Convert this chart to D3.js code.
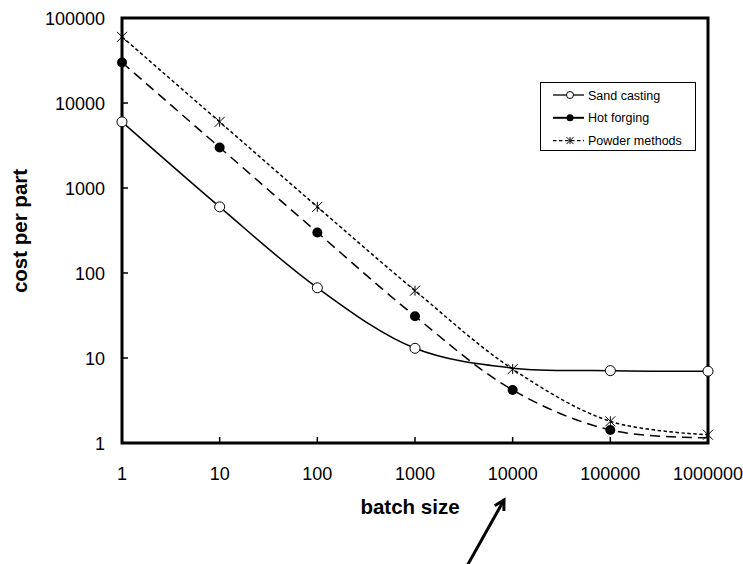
<!DOCTYPE html>
<html><head><meta charset="utf-8">
<script src="https://cdn.jsdelivr.net/npm/d3@7"></script>
<style>body{margin:0;background:#fff}svg{display:block}text{font-family:Arial,"Liberation Sans",sans-serif}</style>
</head><body>
<svg id="c" width="743" height="564"></svg>
<script>
const batchSizes = [1, 10, 100, 1000, 10000, 100000, 1000000];
const sandCasting = [6000, 600, 67, 13, 7.6, 7.1, 7.0];
const hotForging = [30000, 3000, 300, 31, 4.2, 1.42, 1.15];
const powderMethods = [60000, 6000, 600, 62, 7.4, 1.8, 1.25];
const xTickLabels = ["1","10","100","1000","10000","100000","1000000"];
const yTickLabels = ["1","10","100","1000","10000","100000"];
const seriesNames = ["Sand casting","Hot forging","Powder methods"];
// points whose marker is not shown in the picture
const hiddenMarkers = {"Sand casting":[10000], "Hot forging":[1000000]};

const svg = d3.select("#c");
const L=122, R=708, T=18, B=443;
const x = d3.scaleLog().domain([1,1e6]).range([L,R]);
const y = d3.scaleLog().domain([1,1e5]).range([B,T]);

const yTicks = yTickLabels.map(Number), xTicks = xTickLabels.map(Number);
svg.append("g").selectAll("line").data(yTicks).join("line")
  .attr("x1",L).attr("x2",L+6).attr("y1",d=>y(d)).attr("y2",d=>y(d)).attr("stroke","#000").attr("stroke-width",1.5);
svg.append("g").selectAll("line").data(xTicks).join("line")
  .attr("x1",d=>x(d)).attr("x2",d=>x(d)).attr("y1",B).attr("y2",B-6).attr("stroke","#000").attr("stroke-width",1.5);
svg.append("g").selectAll("text").data(yTickLabels).join("text")
  .attr("x",L-17).attr("y",d=>y(+d)+7).attr("text-anchor","end").attr("font-size",18).text(d=>d);
svg.append("g").selectAll("text").data(xTickLabels).join("text")
  .attr("x",d=>x(+d)).attr("y",B+37).attr("text-anchor","middle").attr("font-size",18).text(d=>d);

svg.append("text").attr("x",410).attr("y",514).attr("text-anchor","middle").attr("font-size",20.5).attr("font-weight","bold").text("batch size");
svg.append("text").attr("transform","translate(27,231) rotate(-90)").attr("text-anchor","middle").attr("font-size",20.5).attr("font-weight","bold").text("cost per part");

const line = d3.line().x(d=>x(d[0])).y(d=>y(d[1])).curve(d3.curveCatmullRom.alpha(0.5));
const series = [
  {name:seriesNames[0], vals:sandCasting, dash:null, marker:"open"},
  {name:seriesNames[1], vals:hotForging, dash:"10,6", marker:"fill"},
  {name:seriesNames[2], vals:powderMethods, dash:"3.5,2.5", marker:"star"}
];
function drawMarker(g, type, cx, cy, s){
  s = s||5;
  if(type==="open") g.append("circle").attr("cx",cx).attr("cy",cy).attr("r",s).attr("fill","#fff").attr("stroke","#000").attr("stroke-width",1);
  else if(type==="fill") g.append("circle").attr("cx",cx).attr("cy",cy).attr("r",s).attr("fill","#000");
  else {
    g.append("path").attr("d",`M${cx-s},${cy-s}L${cx+s},${cy+s}M${cx-s},${cy+s}L${cx+s},${cy-s}M${cx},${cy-s}L${cx},${cy+s}`)
      .attr("stroke","#000").attr("stroke-width",1).attr("fill","none");
  }
}
series.forEach(s=>{
  const pts = batchSizes.map((b,i)=>[b,s.vals[i]]);
  svg.append("path").attr("d",line(pts)).attr("fill","none").attr("stroke","#000").attr("stroke-width",1.5)
    .attr("stroke-dasharray",s.dash);
});
svg.append("rect").attr("x",L).attr("y",T).attr("width",R-L).attr("height",B-T).attr("fill","none").attr("stroke","#000").attr("stroke-width",3);
series.forEach(s=>{
  const g=svg.append("g");
  const hid = hiddenMarkers[s.name]||[];
  batchSizes.forEach((b,i)=>{ if(!hid.includes(b)) drawMarker(g,s.marker,x(b),y(s.vals[i])); });
});

// legend
const lg = svg.append("g");
lg.append("rect").attr("x",540.5).attr("y",82.5).attr("width",155).attr("height",68).attr("fill","#fff").attr("stroke","#000").attr("stroke-width",1);
series.forEach((s,i)=>{
  const yy = 95+i*22.8;
  lg.append("line").attr("x1",553).attr("x2",584).attr("y1",yy).attr("y2",yy).attr("stroke","#000").attr("stroke-width",i===1?2:1.3).attr("stroke-dasharray",i===2?"3.5,2.5":null);
  drawMarker(lg,s.marker,570,yy,3.5);
  lg.append("text").attr("x",588).attr("y",yy+4.5).attr("font-size",12.5).text(s.name);
});

// arrow
const ax1=467, ay1=566, ax2=504, ay2=500;
svg.append("line").attr("x1",ax1).attr("y1",ay1).attr("x2",ax2).attr("y2",ay2).attr("stroke","#000").attr("stroke-width",3);
const ang=Math.atan2(ay2-ay1,ax2-ax1);
const hl=11;
svg.append("path").attr("d",`M${ax2-hl*Math.cos(ang-0.5)},${ay2-hl*Math.sin(ang-0.5)}L${ax2},${ay2}L${ax2-hl*Math.cos(ang+0.5)},${ay2-hl*Math.sin(ang+0.5)}`)
  .attr("stroke","#000").attr("stroke-width",3).attr("fill","none").attr("stroke-linejoin","miter");
</script>
</body></html>
